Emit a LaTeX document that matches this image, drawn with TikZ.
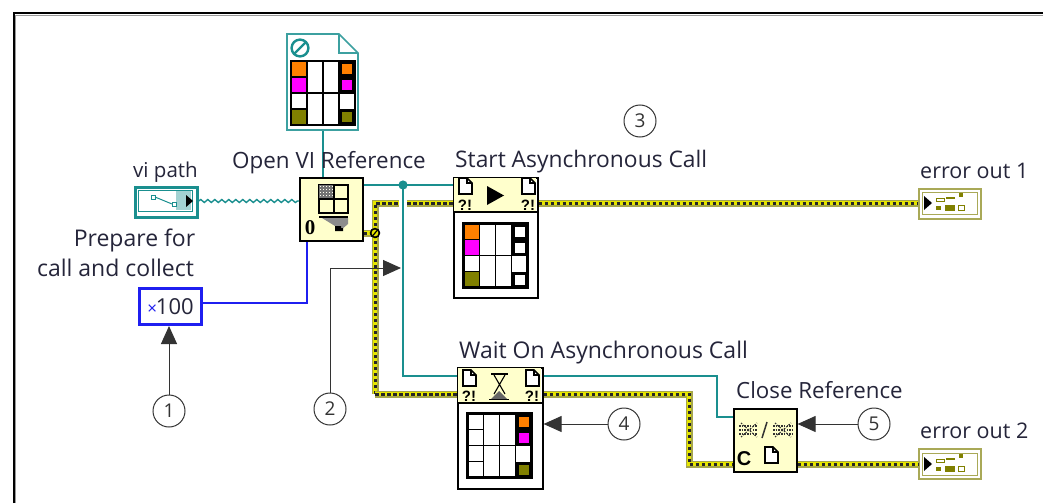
\documentclass[tikz,border=0pt]{standalone}
\usepackage{fontspec}
\setmainfont{Open Sans}
\newfontfamily\boldfam{Liberation Sans}
\newfontfamily\slabfam{Liberation Serif}
\usetikzlibrary{decorations.pathmorphing,arrows.meta,calc}
\definecolor{lvteal}{HTML}{1A8F8F}
\definecolor{lvblue}{HTML}{1F1FF0}
\definecolor{lvyel}{HTML}{FFFFCC}
\definecolor{lvolive}{HTML}{808000}
\definecolor{lvwire}{HTML}{E6E600}
\definecolor{lvtext}{HTML}{25253A}
\definecolor{lvorange}{HTML}{FF8000}
\definecolor{lvmag}{HTML}{FF00FF}
\definecolor{lvcall}{HTML}{333333}
\definecolor{lvterm}{HTML}{A9A957}
\tikzset{
  lab/.style={font=\fontsize{#1}{24}\selectfont,text=lvtext,inner sep=0pt,anchor=base west},
  labc/.style={font=\fontsize{#1}{24}\selectfont,text=lvtext,inner sep=0pt,anchor=base},
  subvi/.style={draw=black,line width=1.6pt,fill=lvyel,anchor=north west,inner sep=0pt},
  lowerbox/.style={draw=black,line width=1.6pt,fill=white,anchor=north west,inner sep=0pt},
  tealw/.style={draw=lvteal,line width=1.5pt},
  bluew/.style={draw=lvblue,line width=1.8pt},
  callout/.style={circle,draw=lvcall,line width=1pt,fill=white,minimum size=32pt,inner sep=0pt,font=\fontsize{19}{20}\selectfont,text=lvcall},
  callw/.style={draw=lvcall,line width=1pt,-{Triangle[length=18pt,width=16pt]}},
  errterm/.style={draw=lvterm,line width=2.4pt,fill=white,anchor=north west,inner sep=0pt,minimum width=62pt,minimum height=30pt},
  qm/.style={font=\boldfam\bfseries\fontsize{15}{15}\selectfont,inner sep=0pt,text=black},
}
\newcommand{\errw}[1]{%
  \draw[line width=7pt,draw=lvolive!70,line join=miter] #1;
  \draw[line width=4.6pt,draw=lvwire,line join=miter] #1;
  \draw[line width=3pt,draw=black!85,dash pattern=on 3.5pt off 2.5pt] #1;
}
\newcommand{\docicon}[2]{%
  \draw[black,line width=1.6pt,fill=white,line join=miter] (#1-6,#2-8)--(#1+2,#2-8)--(#1+7,#2-3)--(#1+7,#2+8)--(#1-6,#2+8)--cycle;
  \draw[black,line width=1.3pt] (#1+2,#2-8)--(#1+2,#2-3)--(#1+7,#2-3);
}
\newcommand{\panegrid}{%
  \draw[black,line width=1.5pt] (16,0)--(16,64) (32,0)--(32,64) (48,0)--(48,64) (0,32)--(64,32);
}
\newcommand{\paneframe}{\draw[black,line width=2.2pt] (0,0) rectangle (64,64);}
\newcommand{\leftcolors}{%
  \fill[lvorange] (0,0) rectangle (16,16);
  \fill[lvmag] (0,16) rectangle (16,32);
  \fill[lvolive] (0,48) rectangle (16,64);
}
\newcommand{\rightblack}{\fill[black] (48,0) rectangle (64,64);}
\newcommand{\smallsq}[3]{\fill[#3] (#1,#2) rectangle ++(10,10);}
\begin{document}
\begin{tikzpicture}[x=1pt,y=-1pt]
\useasboundingbox (0,0) rectangle (1043,503);
\fill[white] (0,0) rectangle (1043,503);
% frame
\draw[black!40,line width=1.5pt] (15.5,503)--(15.5,15.5)--(1043,15.5);
\draw[black,line width=2pt] (13.5,503)--(13.5,13.5)--(1043,13.5);

% nodes
\node[draw=none,anchor=north west,minimum width=71pt,minimum height=96pt,inner sep=0pt] (file) at (287,34) {};
\node[subvi,minimum width=63pt,minimum height=63pt] (openvi) at (299,177) {};
\node[lowerbox,minimum width=84pt,minimum height=120pt] (start) at (453,177) {};
\node[lowerbox,minimum width=85pt,minimum height=121pt] (wait) at (457,367) {};
\node[subvi,minimum width=63pt,minimum height=63pt] (close) at (733,408) {};
\node[errterm] (err1) at (918,187.5) {};
\node[errterm] (err2) at (918,448) {};
\node[draw=lvteal,line width=2.6pt,fill=white,anchor=north west,minimum width=62pt,minimum height=30pt,inner sep=0pt] (vipath) at (134,186) {};
\node[draw=lvblue,line width=3pt,fill=white,anchor=north west,minimum width=62pt,minimum height=36pt,inner sep=0pt,font=\fontsize{22}{24}\selectfont,text=lvtext] (constv) at (138,287) {\textcolor{lvblue}{\fontsize{17}{17}\selectfont ×}\kern-1pt 100};

% coordinates of wires
\coordinate (tj) at (403,185);
\coordinate (ek) at (375,233);
\coordinate (et) at (375,203);
\coordinate (eb) at (375,394);
\coordinate (wb) at (403,376);
\coordinate (wr) at (717,376);
\coordinate (wq) at (717,417);
\coordinate (e2a) at (689,394);
\coordinate (e2b) at (689,464);
\coordinate (vw) at (196,201);
\coordinate (bw) at (307,303);
\coordinate (fw) at (323,130);

% wires
\draw[tealw] (fw) -- (fw |- openvi.north);
\draw[draw=lvteal,line width=1.4pt,decorate,decoration={snake,amplitude=1.5pt,segment length=7pt}] (vipath.east |- vw) -- (openvi.west |- vw);
\draw[bluew] (constv.east |- bw) -- (bw) -- (bw |- openvi.south);
\draw[tealw] (openvi.east |- tj) -- (start.west |- tj);
\draw[tealw] (tj) -- (wb) -- (wait.west |- wb);
\draw[tealw] (wait.east |- wb) -- (wr) -- (wq) -- (close.west |- wq);

\errw{(openvi.east |- ek) -- (ek)}
\errw{(eb) -- (et) -- (399,203)}
\errw{(407,203) -- (start.west |- et)}
\errw{(eb) -- (wait.west |- eb)}
\errw{(start.east |- et) -- (err1.west |- et)}
\errw{(wait.east |- eb) -- (e2a) -- (e2b) -- (close.west |- e2b)}
\errw{(close.east |- e2b) -- (err2.west |- e2b)}
\fill[lvteal] (tj) circle (4.6);
\draw[black,line width=1.6pt,fill=lvwire] (ek) circle (4.4);
\draw[black,line width=1.2pt] (372.5,236)--(377.5,230);

% file icon
\draw[lvteal!85,line width=1.6pt,fill=white,line join=miter] (287,34)--(339,34)--(358,53)--(358,130)--(287,130)--cycle;
\draw[lvteal!85,line width=1.4pt] (339,34)--(339,53)--(358,53);
\draw[lvteal,line width=2.4pt] (300,48) circle (8.4);
\draw[lvteal,line width=2.4pt] (294,54)--(306,42);
\begin{scope}[shift={(291,61)}]
  \leftcolors \rightblack
  \fill[white] (48,32) rectangle (64,48);
  \smallsq{51}{3}{lvorange}\smallsq{51}{19}{lvmag}\smallsq{51}{51}{lvolive}
  \panegrid
  \draw[black,line width=1.5pt] (0,16)--(16,16) (0,48)--(16,48);
  \paneframe
\end{scope}

% Open VI icon
\draw[black,line width=1.5pt,fill=lvyel] (319,185) rectangle (348,213);
\fill[black!55] (319,185) rectangle (334,199);
\foreach \xx in {320,323,...,332} \foreach \yy in {186,189,...,198} {\fill[white!70!lvyel] (\xx,\yy) rectangle ++(1.2,1.2);}
\draw[black,line width=1.3pt] (334,185)--(334,213) (319,199)--(348,199);
\draw[black,line width=1.3pt] (319,217)--(348,217);
\fill[black!45] (322,218)--(348,218)--(348,224)--(341,230)--(335,226)--cycle;
\fill[black] (335,226)--(341,226)--(341,228)--(343,228)--(343,231)--(335,231)--cycle;
\node[font=\slabfam\bfseries\fontsize{21}{21}\selectfont,inner sep=0pt,text=black] (zero) at (310,228) {0};

% vi path icon
\draw[lvteal,line width=1pt] (138,190) rectangle (192,211);
\fill[lvteal!40] (176,191) rectangle (191,210);
\draw[lvteal,line width=1pt] (151,195) rectangle ++(4,4);
\draw[lvteal,line width=1pt] (155,197)--(172,204);
\draw[lvteal,line width=1pt] (172,202) rectangle ++(4,4);
\fill[black] (186,195)--(193,201)--(186,207)--cycle;

% Start node detail
\fill[lvyel] (454,178) rectangle (536,212);
\draw[black,line width=1.6pt] (453,212)--(537,212);
\docicon{465}{186}\docicon{528}{186}
\node[qm] (q1) at (465,205) {?!};
\node[qm] (q2) at (528,205) {?!};
\fill[black] (487,186)--(504,195.5)--(487,205)--cycle;
\begin{scope}[shift={(463.5,223.5)}]
  \leftcolors \rightblack
  \fill[white] (48,32) rectangle (64,48);
  \fill[white] (51,3) rectangle ++(10,10);
  \fill[white] (51,19) rectangle ++(10,10);
  \fill[white] (51,51) rectangle ++(10,10);
  \panegrid
  \draw[black,line width=1.5pt] (0,16)--(16,16) (0,48)--(16,48);
  \paneframe
\end{scope}

% Wait node detail
\fill[lvyel] (458,368) rectangle (541,403);
\draw[black,line width=1.6pt] (457,403)--(542,403);
\docicon{469}{378}\docicon{532}{378}
\node[qm] (q3) at (469,396) {?!};
\node[qm] (q4) at (532,396) {?!};
\draw[black,line width=1.4pt] (491,374)--(508,374) (489,399.5)--(509,399.5);
\draw[black,line width=1.1pt] (494,375)--(505,394) (505,375)--(494,394);
\fill[black!60] (491,399)--(499,391)--(507,399)--cycle;
\begin{scope}[shift={(467.5,413.5)}]
  \rightblack
  \fill[white] (48,32) rectangle (64,48);
  \smallsq{51}{3}{lvorange}\smallsq{51}{19}{lvmag}\smallsq{51}{51}{lvolive}
  \panegrid
  \draw[black,line width=1.5pt] (0,16)--(16,16) (0,48)--(16,48);
  \paneframe
\end{scope}

% Close icon
\foreach \cx in {749,783} {
  \draw[black!80,line width=1.3pt,dash pattern=on 1.5pt off 1.2pt] (\cx-10,426)--(\cx+10,426) (\cx-10,430)--(\cx+10,430) (\cx-10,434)--(\cx+10,434);
  \draw[black!80,line width=1.1pt,dash pattern=on 1.5pt off 1.5pt] (\cx-8,423)--(\cx+8,437) (\cx-8,437)--(\cx+8,423);
}
\fill[lvyel] (758,421) rectangle (772,440);
\draw[black!80,line width=1.5pt] (762,438)--(767,422);
\node[font=\boldfam\bfseries\fontsize{20}{20}\selectfont,inner sep=0pt,text=black] (cc) at (744,459) {C};
\docicon{771}{455}

% error terminal icons
\foreach \oy in {203,464} {
  \draw[lvterm,line width=1pt] (922,\oy-11) rectangle (977,\oy+11);
  \fill[black] (924,\oy-7)--(932,\oy)--(924,\oy+7)--cycle;
  \draw[lvolive,line width=1pt] (936,\oy-5) rectangle ++(8,3.5);
  \fill[lvolive] (936,\oy+3) rectangle ++(5,3.5);
  \fill[lvolive] (946,\oy-6) rectangle ++(9,2);
  \fill[lvolive] (945,\oy+2) rectangle ++(10,6);
  \fill[lvolive] (959,\oy-10) rectangle ++(4,4);
  \draw[lvolive,line width=1pt] (958,\oy+2) rectangle ++(6,5);
}

% labels
\node[labc=20.5] (lvipath) at (165.5,177) {vi path};
\node[lab=22.4] (lopen) at (232,168) {Open VI Reference};
\node[labc=23] (lprep1) at (134.5,246) {Prepare for};
\node[labc=23] (lprep2) at (115.5,276) {call and collect};
\node[lab=22.8] (lstart) at (455,167) {Start Asynchronous Call};
\node[lab=23] (lwait) at (459,358) {Wait On Asynchronous Call};
\node[lab=22.3] (lclose) at (736,398) {Close Reference};
\node[lab=21.5] (lerr1) at (920,178) {error out 1};
\node[lab=21.5] (lerr2) at (920,438) {error out 2};

% callouts
\node[callout] (c1) at (169,411) {1};
\node[callout] (c2) at (330,409) {2};
\node[callout] (c3) at (640,121) {3};
\node[callout] (c4) at (624,424) {4};
\node[callout] (c5) at (874,424) {5};
\coordinate (t2) at (401,268);
\draw[callw] (c1.north) -- (constv.south -| c1.north);
\draw[callw] (c2.north) |- (t2);
\draw[callw] (c4.west) -- (wait.east |- c4.west);
\draw[callw] (c5.west) -- (close.east |- c5.west);
\end{tikzpicture}
\end{document}
